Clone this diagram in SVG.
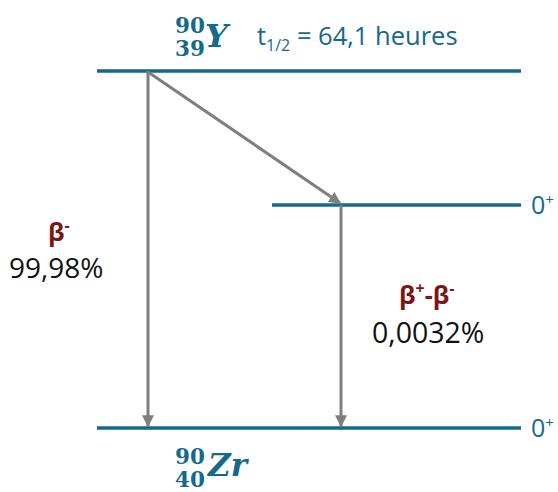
<svg xmlns="http://www.w3.org/2000/svg" width="558" height="492" viewBox="0 0 558 492">
<style>
.lvl{stroke:#14698c;stroke-width:3.5;fill:none}
.arr{stroke:#7f7f7f;stroke-width:3;fill:none}
.t{font-family:"Open Sans","Liberation Sans",sans-serif;fill:#14698c}
.nuc{font-family:"DejaVu Serif","Liberation Serif",serif;font-weight:bold;fill:#14698c}
.beta{font-family:"Open Sans","Liberation Sans",sans-serif;font-weight:bold;fill:#7b1616}
.pct{font-family:"Open Sans","Liberation Sans",sans-serif;fill:#111}
</style>
<defs>
<marker id="ah" viewBox="0 0 10 10" refX="9" refY="5" markerWidth="4" markerHeight="4" orient="auto" markerUnits="strokeWidth">
<path d="M0,0 L10,5 L0,10 Z" fill="#7f7f7f"/>
</marker>
</defs>
<g id="level-Y90">
<line class="lvl" x1="97" y1="71" x2="521" y2="71"/>
<text class="nuc" x="175" y="33" font-size="21.5">90</text>
<text class="nuc" x="175" y="56" font-size="21.5">39</text>
<text class="nuc" x="205" y="47" font-size="32" font-style="italic">Y</text>
<text class="t" x="257" y="45" font-size="25.5">t<tspan font-size="16" dy="6">1/2</tspan><tspan dy="-6"> = 64,1 heures</tspan></text>
</g>
<g id="level-Zr90-excited">
<line class="lvl" x1="272" y1="205" x2="521" y2="205"/>
<text class="t" x="531" y="214" font-size="25">0<tspan font-size="15" dy="-9">+</tspan></text>
</g>
<g id="level-Zr90-ground">
<line class="lvl" x1="97" y1="428" x2="521" y2="428"/>
<text class="t" x="531" y="437" font-size="25">0<tspan font-size="15" dy="-9">+</tspan></text>
<text class="nuc" x="175" y="464" font-size="21.5">90</text>
<text class="nuc" x="175" y="487" font-size="21.5">40</text>
<text class="nuc" x="208" y="476" font-size="31" font-style="italic">Zr</text>
</g>
<g id="connectors">
<line class="arr" x1="148" y1="71" x2="148" y2="426" marker-end="url(#ah)"/>
<line class="arr" x1="148" y1="72" x2="340" y2="203" marker-end="url(#ah)"/>
<line class="arr" x1="341" y1="205" x2="341" y2="426" marker-end="url(#ah)"/>
</g>
<g id="label-beta-minus">
<text class="beta" x="48" y="241" font-size="25">β<tspan font-size="16" dy="-10">-</tspan></text>
<text class="pct" x="9" y="278" font-size="28">99,98%</text>
</g>
<g id="label-beta-plus-minus">
<text class="beta" x="399" y="304" font-size="25">β<tspan font-size="16" dy="-10">+</tspan><tspan dy="10">-β</tspan><tspan font-size="16" dy="-10">-</tspan></text>
<text class="pct" x="372" y="343" font-size="28.5">0,0032%</text>
</g>
</svg>
